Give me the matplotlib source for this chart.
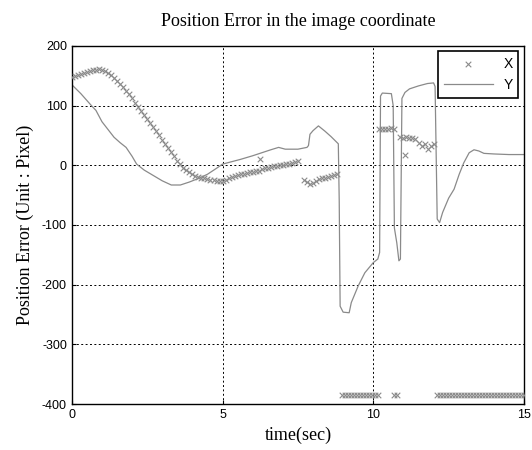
import matplotlib
matplotlib.use("Agg")
import matplotlib.pyplot as plt
import numpy as np

# ---- data ----
# X error (scatter 'x' markers)
x_t_a = [0.0, 0.1, 0.2, 0.3, 0.4, 0.5, 0.6, 0.7, 0.8, 0.9, 1.0, 1.1, 1.2, 1.3, 1.4,
         1.5, 1.6, 1.7, 1.8, 1.9, 2.0, 2.1, 2.2, 2.3, 2.4, 2.5, 2.6, 2.7, 2.8, 2.9,
         3.0, 3.1, 3.2, 3.3, 3.4, 3.5, 3.6, 3.7, 3.8, 3.9, 4.0, 4.1, 4.2, 4.3, 4.4,
         4.5, 4.6, 4.7, 4.8, 4.9, 5.0, 5.1, 5.2, 5.3, 5.4, 5.5, 5.6, 5.7, 5.8, 5.9,
         6.0, 6.1, 6.2, 6.25, 6.3, 6.4, 6.5, 6.6, 6.7, 6.8, 6.9, 7.0, 7.1, 7.2, 7.3,
         7.4, 7.5]
x_v_a = [148, 150, 151, 153, 155, 157, 158, 159, 160, 161, 160, 158, 155, 151, 147,
         142, 137, 131, 125, 119, 112, 105, 98, 91, 85, 78, 71, 64, 57, 50,
         43, 36, 29, 22, 15, 8, 2, -4, -8, -12, -15, -18, -20, -21, -22,
         -23, -24, -25, -26, -27, -26, -24, -22, -20, -18, -16, -15, -14, -13, -12,
         -11, -10, -9, 10, -7, -5, -4, -3, -2, -1, 0, 1, 2, 3, 4,
         5, 7]
x_t_b = [7.7, 7.8, 7.9, 8.0, 8.1, 8.2, 8.3, 8.4, 8.5, 8.6, 8.7, 8.8]
x_v_b = [-24, -28, -32, -30, -26, -23, -22, -21, -19, -18, -16, -15]
x_t_c = [10.2, 10.3, 10.4, 10.5, 10.6, 10.7, 10.9, 11.0, 11.05, 11.1, 11.2, 11.3,
         11.4, 11.5, 11.6, 11.7, 11.8, 11.9, 12.0]
x_v_c = [60, 61, 61, 60, 62, 61, 47, 46, 18, 47, 45, 46, 44, 38, 32, 36, 27, 33, 36]
x_t_low = [8.95, 9.05, 9.15, 9.25, 9.35, 9.45, 9.55, 9.65, 9.75, 9.85, 9.95, 10.05,
           10.15, 10.7, 10.8, 12.1, 12.2, 12.3, 12.4, 12.5, 12.6, 12.7, 12.8, 12.9,
           13.0, 13.1, 13.2, 13.3, 13.4, 13.5, 13.6, 13.7, 13.8, 13.9, 14.0, 14.1,
           14.2, 14.3, 14.4, 14.5, 14.6, 14.7, 14.8, 14.9, 15.0]
x_v_low = [-384, -385, -384, -385, -385, -384, -385, -384, -385, -385, -384, -385,
           -385, -384, -385, -384, -385, -385, -384, -385, -385, -384, -385, -385,
           -384, -385, -385, -384, -385, -385, -384, -385, -385, -384, -385, -385,
           -384, -385, -385, -384, -385, -385, -384, -385, -385]

# Y error (solid line)
y_t = [0.0, 0.3, 0.65, 0.8, 1.0, 1.2, 1.4, 1.6, 1.8, 2.0, 2.15, 2.4, 2.7, 3.0, 3.3,
       3.6, 3.9, 4.2, 4.5, 4.8, 5.0, 5.3, 5.6, 6.0, 6.3, 6.6, 6.86, 7.08, 7.5, 7.8,
       7.85, 7.9, 8.0, 8.18, 8.4, 8.6, 8.84, 8.87, 8.9, 9.0, 9.2, 9.27, 9.5, 9.72,
       10.0, 10.15, 10.21, 10.24, 10.3, 10.6, 10.66, 10.7, 10.78, 10.85, 10.9, 10.95,
       11.05, 11.2, 11.5, 11.8, 12.0, 12.05, 12.12, 12.2, 12.3, 12.5, 12.68, 12.85,
       13.0, 13.18, 13.34, 13.5, 13.67, 14.0, 14.5, 15.0]
y_v = [135, 120, 100, 92, 73, 60, 47, 38, 30, 15, 2, -8, -17, -26, -33,
       -33, -28, -22, -15, -5, 2, 6, 10, 16, 21, 26, 30, 27, 27, 30,
       33, 52, 58, 66, 57, 48, 36, -60, -236, -246, -247, -230, -202, -180,
       -163, -157, -146, 116, 121, 120, 100, -105, -130, -160, -157, 112,
       122, 128, 133, 137, 138, 132, -90, -96, -79, -55, -40, -15,
       4, 21, 26, 24, 20, 19, 18, 18]

x_ticks = [0, 5, 10, 15]
y_ticks = [200, 100, 0, -100, -200, -300, -400]
y_ticklabels = ["200", "100", "0", "-100", "-200", "-300", "-400"]

# ---- figure ----
fig = plt.figure(figsize=(5.32, 4.5), dpi=100)
ax = fig.add_axes([0.135, 0.102, 0.85, 0.796])

gray = "#8a8a8a"
mkw = dict(marker="x", color=gray, s=16, linewidths=0.8, zorder=3)
ax.scatter(x_t_a, x_v_a, label="X", **mkw)
ax.scatter(x_t_b, x_v_b, **mkw)
ax.scatter(x_t_c, x_v_c, **mkw)
ax.scatter(x_t_low, x_v_low, **mkw)
ax.plot(y_t, y_v, color=gray, lw=0.9, label="Y", zorder=2)

ax.set_xlim(0, 15)
ax.set_ylim(-400, 200)
ax.set_xticks(x_ticks)
ax.set_yticks(y_ticks)
ax.set_yticklabels(y_ticklabels)
ax.grid(True, color="black", linestyle=(0, (2, 2.5)), linewidth=0.7)
ax.tick_params(direction="in", length=3, labelsize=9, width=0.8)
for lab in ax.get_xticklabels() + ax.get_yticklabels():
    lab.set_fontfamily("Liberation Sans")
for sp in ax.spines.values():
    sp.set_linewidth(1.0)
    sp.set_color("black")

serif = "Liberation Serif"
ax.set_title("Position Error in the image coordinate", family=serif, fontsize=13, pad=14)
ax.set_xlabel("time(sec)", family=serif, fontsize=13, labelpad=4)
ax.set_ylabel("Position Error (Unit : Pixel)", family=serif, fontsize=13, labelpad=6)

leg = ax.legend(loc="upper right", frameon=True, fancybox=False, edgecolor="black",
                prop={"family": "Liberation Sans", "size": 10}, markerfirst=True,
                handlelength=3.5, borderaxespad=0.4, framealpha=1)
leg.get_frame().set_linewidth(1.2)

fig.savefig("out.png", dpi=100)
